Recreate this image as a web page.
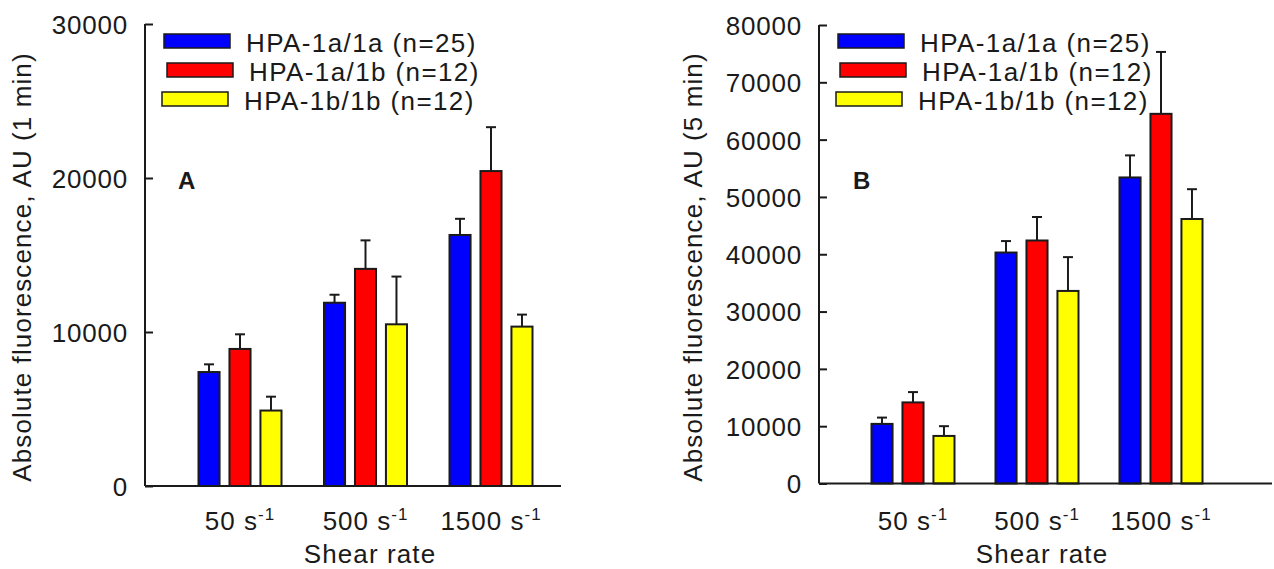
<!DOCTYPE html>
<html>
<head>
<meta charset="utf-8">
<script src="https://cdn.jsdelivr.net/npm/d3@7"></script>
<style>
  body { margin: 0; background: #fff; }
  text { font-family: 'Liberation Sans', Arial, sans-serif; fill: #1a1a1a; }
</style>
</head>
<body>
<div id="chart"></div>
<script>
////////////////////////////////////////////////////////////////////////
// Data

let shearRates = ['50', '500', '1500']
let genotypes = ['HPA-1a/1a (n=25)', 'HPA-1a/1b (n=12)', 'HPA-1b/1b (n=12)']
let colors = ['#0000ff', '#ff0000', '#ffff00']

// panel A: 1 min
let meanA_aa = [7400, 11900, 16300]
let meanA_ab = [8900, 14100, 20450]
let meanA_bb = [4900, 10500, 10350]
let errA_aa = [500, 520, 1050]
let errA_ab = [950, 1850, 2850]
let errA_bb = [900, 3100, 780]
let ticksA = [0, 10000, 20000, 30000]

// panel B: 5 min
let meanB_aa = [10400, 40300, 53400]
let meanB_ab = [14150, 42400, 64500]
let meanB_bb = [8300, 33600, 46150]
let errB_aa = [1100, 2000, 3850]
let errB_ab = [1800, 4100, 10800]
let errB_bb = [1700, 5900, 5200]
let ticksB = [0, 10000, 20000, 30000, 40000, 50000, 60000, 70000, 80000]

////////////////////////////////////////////////////////////////////////
// svg

let width = 1274
let height = 569

let svg = d3
  .select('#chart')
  .append('svg')
  .attr('width', width)
  .attr('height', height)

// one panel = y axis, bars with error bars, legend, labels
function drawPanel (opt) {
  let g = svg.append('g')

  let yScale = d3
    .scaleLinear()
    .domain([0, opt.ymax])
    .range([opt.y0, opt.y1])

  let xScale = d3
    .scalePoint()
    .domain(shearRates)
    .range([opt.cx0, opt.cx1])

  let inner = d3
    .scaleBand()
    .domain(genotypes)
    .range([-41.5, 41.5])
    .paddingInner(0.32)

  // flatten into rows for the bars
  let rows = []
  shearRates.forEach(function (rate, i) {
    genotypes.forEach(function (gt, j) {
      rows.push({ rate: rate, gt: gt, mean: opt.means[j][i], err: opt.errs[j][i], color: colors[j] })
    })
  })

  // error bars first (under the bar outline)
  let eb = g.selectAll('.errbar').data(rows).enter().append('g').attr('class', 'errbar')
  eb.append('line')
    .attr('x1', d => xScale(d.rate) + inner(d.gt) + inner.bandwidth() / 2)
    .attr('x2', d => xScale(d.rate) + inner(d.gt) + inner.bandwidth() / 2)
    .attr('y1', d => yScale(d.mean))
    .attr('y2', d => yScale(d.mean + d.err))
    .attr('stroke', '#1a1a1a')
    .attr('stroke-width', 2)
  eb.append('line')
    .attr('x1', d => xScale(d.rate) + inner(d.gt) + inner.bandwidth() / 2 - 5)
    .attr('x2', d => xScale(d.rate) + inner(d.gt) + inner.bandwidth() / 2 + 5)
    .attr('y1', d => yScale(d.mean + d.err))
    .attr('y2', d => yScale(d.mean + d.err))
    .attr('stroke', '#1a1a1a')
    .attr('stroke-width', 2)

  g.selectAll('.bar')
    .data(rows)
    .enter()
    .append('rect')
    .attr('class', 'bar')
    .attr('x', d => xScale(d.rate) + inner(d.gt))
    .attr('width', inner.bandwidth())
    .attr('y', d => yScale(d.mean))
    .attr('height', d => yScale(0) - yScale(d.mean))
    .attr('fill', d => d.color)
    .attr('stroke', '#1a1a1a')
    .attr('stroke-width', 2)

  // y axis, ticks pointing inward
  let yAxis = d3
    .axisRight(yScale)
    .tickValues(opt.ticks)
    .tickSize(8)
    .tickFormat(d => d)
  let ya = g.append('g')
    .attr('transform', 'translate(' + opt.ax + ',0)')
    .call(yAxis)
  ya.select('.domain').remove()
  ya.selectAll('line').attr('stroke', '#1a1a1a').attr('stroke-width', 2)
  ya.selectAll('text')
    .attr('x', -17)
    .attr('dy', '0.36em')
    .attr('text-anchor', 'end')
    .style('font-size', '26px')
    .style('letter-spacing', '0.8px')
    .style('font-family', "'Liberation Sans', Arial, sans-serif")
    .attr('fill', '#1a1a1a')

  // axis lines
  g.append('line')
    .attr('x1', opt.ax).attr('x2', opt.ax)
    .attr('y1', yScale(opt.ymax)).attr('y2', yScale(0))
    .attr('stroke', '#1a1a1a').attr('stroke-width', 2)
  g.append('line')
    .attr('x1', opt.ax).attr('x2', opt.axEnd)
    .attr('y1', yScale(0)).attr('y2', yScale(0))
    .attr('stroke', '#1a1a1a').attr('stroke-width', 2)

  // x category labels with superscript
  let xl = g.selectAll('.xlab')
    .data(shearRates)
    .enter()
    .append('text')
    .attr('class', 'xlab')
    .attr('x', d => xScale(d))
    .attr('y', 530)
    .attr('text-anchor', 'middle')
    .style('font-size', '26px')
    .style('letter-spacing', '1px')
  xl.append('tspan').text(d => d + ' s')
  xl.append('tspan').attr('dy', -10).style('font-size', '17px').text('-1')

  g.append('text')
    .attr('x', opt.titleX)
    .attr('y', 563)
    .attr('text-anchor', 'middle')
    .style('font-size', '26px')
    .style('letter-spacing', '1.1px')
    .text('Shear rate')

  g.append('text')
    .attr('transform', 'translate(' + opt.ytX + ',267) rotate(-90)')
    .attr('text-anchor', 'middle')
    .style('font-size', '26px')
    .style('letter-spacing', '1.1px')
    .text(opt.ytitle)

  // panel letter
  g.append('text')
    .attr('x', opt.letterX)
    .attr('y', 189)
    .style('font-size', '24px')
    .style('font-weight', 'bold')
    .text(opt.letter)

  // legend
  let lg = g.selectAll('.leg')
    .data(genotypes)
    .enter()
    .append('g')
    .attr('class', 'leg')
    .attr('transform', (d, i) => 'translate(' + (opt.legX + opt.legShift[i]) + ',' + (34 + i * 29) + ')')
  lg.append('rect')
    .attr('width', 66)
    .attr('height', 14)
    .attr('fill', (d, i) => colors[i])
    .attr('stroke', '#1a1a1a')
    .attr('stroke-width', 1.5)
  lg.append('text')
    .attr('x', 82)
    .attr('y', 18)
    .style('font-size', '26px')
    .style('letter-spacing', '1.4px')
    .text(d => d)
}

drawPanel({
  means: [meanA_aa, meanA_ab, meanA_bb],
  errs: [errA_aa, errA_ab, errA_bb],
  ticks: ticksA,
  ymax: 30000,
  y0: 486,
  y1: 24,
  cx0: 240,
  cx1: 491,
  ax: 145,
  axEnd: 561,
  titleX: 370,
  ytX: 31,
  ytitle: 'Absolute fluorescence, AU (1 min)',
  letter: 'A',
  letterX: 178,
  legX: 164,
  legShift: [0, 3, -2]
})

drawPanel({
  means: [meanB_aa, meanB_ab, meanB_bb],
  errs: [errB_aa, errB_ab, errB_bb],
  ticks: ticksB,
  ymax: 80000,
  y0: 483.5,
  y1: 25,
  cx0: 913,
  cx1: 1161,
  ax: 819,
  axEnd: 1272,
  titleX: 1042,
  ytX: 702,
  ytitle: 'Absolute fluorescence, AU (5 min)',
  letter: 'B',
  letterX: 853,
  legX: 838,
  legShift: [0, 2, -2]
})
</script>
</body>
</html>
